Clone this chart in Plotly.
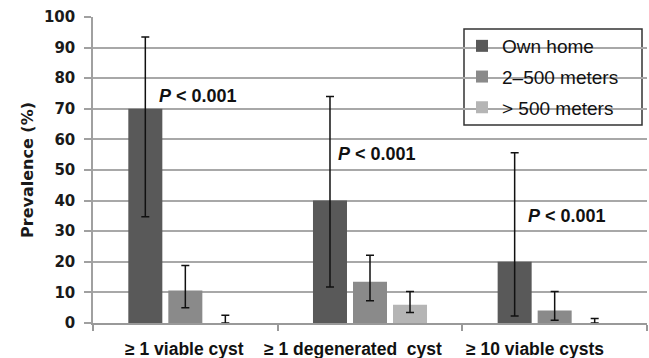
import plotly.graph_objects as go

categories = ["≥ 1 viable cyst", "≥ 1 degenerated  cyst", "≥ 10 viable cysts"]
series_names = ["Own home", "2–500 meters", "> 500 meters"]

own_home = [70, 40, 20]
own_home_hi = [93.5, 74, 55.6]
own_home_lo = [34.7, 11.8, 2.3]

near = [10.6, 13.5, 4.1]
near_hi = [18.8, 22.1, 10.3]
near_lo = [5.0, 7.3, 0.9]

far = [0, 6.0, 0]
far_hi = [2.5, 10.3, 1.5]
far_lo = [0, 3.4, 0]

p_text = ["P < 0.001", "P < 0.001", "P < 0.001"]
p_label_y = [74.3, 55.3, 35.1]
p_label_xshift = [13, 7, 12]
cat_label_xshift = [-1, -17, -20]

y_ticks = list(range(0, 101, 10))

colors = ["#595959", "#8a8a8a", "#b5b5b5"]

fig = go.Figure()
for name, vals, hi, lo, col in zip(series_names, [own_home, near, far],
                                   [own_home_hi, near_hi, far_hi],
                                   [own_home_lo, near_lo, far_lo], colors):
    fig.add_trace(go.Bar(
        x=categories, y=vals, name=name, legendgroup=name,
        marker=dict(color=col, line=dict(width=0)),
        error_y=dict(type="data", symmetric=False,
                     array=[h - v for h, v in zip(hi, vals)],
                     arrayminus=[v - l for v, l in zip(vals, lo)],
                     color="#111111", thickness=1.5, width=4),
    ))

for cat, txt, yv, xs in zip(categories, p_text, p_label_y, p_label_xshift):
    t = txt.replace("<", "&lt;")
    t = "<i>P</i>" + t[1:]
    fig.add_annotation(x=cat, y=yv, xref="x", yref="y", text="<b>" + t + "</b>",
                       showarrow=False, xshift=xs,
                       font=dict(family="Liberation Sans, Arial", size=18, color="#111111"))

for cat, xs in zip(categories, cat_label_xshift):
    fig.add_annotation(x=cat, y=0, xref="x", yref="y", text=cat, showarrow=False,
                       yanchor="middle", yshift=-25.5, xshift=xs, borderpad=0,
                       font=dict(family="Liberation Sans, Arial", size=17.5, color="#111111", weight="bold"))

# legend frame
fig.add_shape(type="rect", xref="paper", yref="paper",
              x0=(464 - 93) / 554, x1=(642 - 93) / 554,
              y0=(323 - 125) / 306, y1=(323 - 29) / 306,
              line=dict(color="#333333", width=1.5), fillcolor="white", layer="below")

fig.update_layout(
    width=649, height=358,
    margin=dict(l=93, r=2, t=17, b=35),
    paper_bgcolor="white", plot_bgcolor="rgba(0,0,0,0)",
    barmode="group", bargap=0.35, bargroupgap=0.15,
    showlegend=True,
    legend=dict(x=(462 - 93) / 554, y=(323 - 27) / 306, xanchor="left", yanchor="top",
                bgcolor="rgba(0,0,0,0)", borderwidth=0, tracegroupgap=3,
                font=dict(family="Liberation Sans, Arial", size=19, color="#111111")),
    xaxis=dict(type="category", showticklabels=False, ticks="outside", tickson="boundaries",
               ticklen=6, tickcolor="#999999", tickwidth=1.5, showline=True,
               linecolor="#999999", linewidth=1.5, showgrid=False),
    yaxis=dict(range=[0, 100], tickvals=y_ticks, ticks="outside", ticklen=7,
               tickcolor="#a0a0a0", tickwidth=1.5, showline=True, linecolor="#a0a0a0",
               linewidth=1.5, showgrid=True, gridcolor="#a8a8a8", gridwidth=1.5,
               zeroline=False, ticklabelstandoff=6,
               tickfont=dict(family="DejaVu Sans", size=15, color="#1a1a1a", weight="bold"),
               title=dict(text="Prevalence (%)", standoff=6,
                          font=dict(family="DejaVu Sans", size=16, color="#1a1a1a", weight="bold"))),
)

fig.write_html("out.html", config={"displayModeBar": False},
               post_script="document.body.style.margin='0';document.body.style.overflow='hidden';")
